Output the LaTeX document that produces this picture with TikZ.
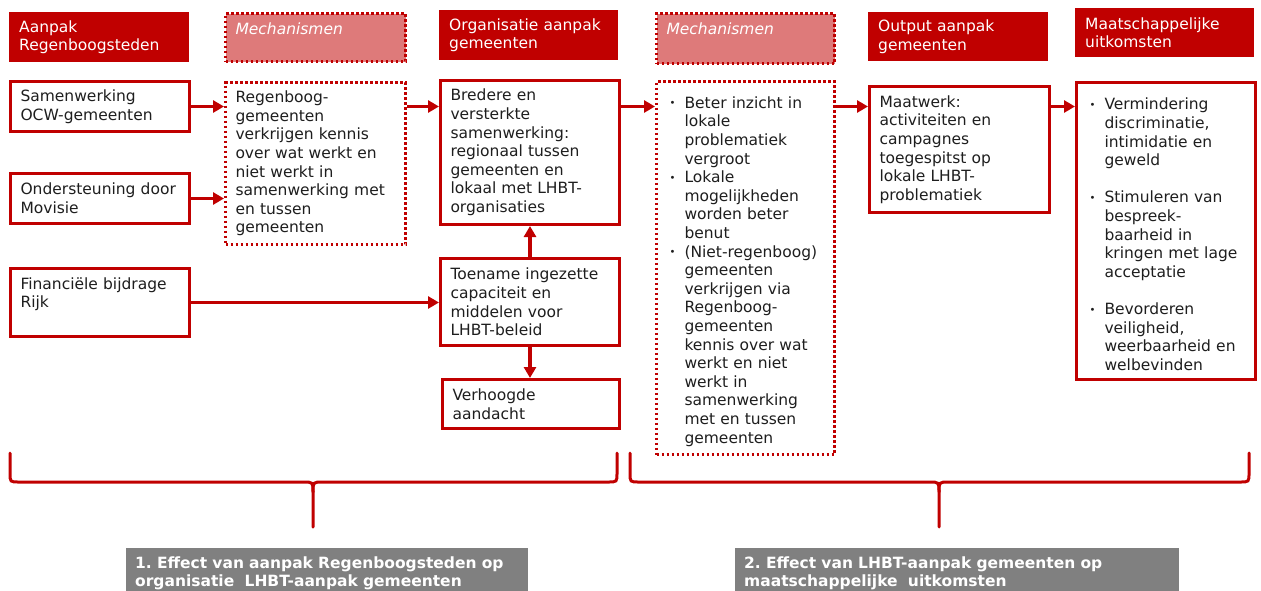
\documentclass[tikz,border=0pt]{standalone}
\usepackage{fontspec}
\setmainfont{DejaVu Sans}
\usepackage{tikz}
\usetikzlibrary{arrows.meta}

\definecolor{rdark}{RGB}{192,0,0}
\definecolor{rlight}{RGB}{222,122,122}
\definecolor{grijs}{RGB}{128,128,128}
\definecolor{tekst}{RGB}{30,30,30}

\newcommand{\boxfont}{\fontsize{15.5pt}{18.6pt}\selectfont}
\newcommand{\itm}{\par\noindent\hangindent=18pt\hangafter=1%
  \makebox[18pt][l]{\hspace{3pt}\raisebox{1.5pt}{\fontsize{10pt}{10pt}\selectfont\textbullet}}}

\begin{document}
\begin{tikzpicture}[x=1pt, y=-1pt,
  every node/.style={font=\boxfont},
  hdr/.style={anchor=north west, fill=rdark, text=white, inner xsep=10pt, inner ysep=4pt, align=left},
  mechhdr/.style={hdr, fill=rlight, draw=rdark, line width=3pt, dash pattern=on 2.5pt off 2.5pt, font=\boxfont\itshape},
  blok/.style={anchor=north west, draw=rdark, line width=3pt, fill=white, text=tekst, inner xsep=10pt, inner ysep=4pt, align=left},
  mechblok/.style={blok, dash pattern=on 2.5pt off 2.5pt},
  effect/.style={anchor=north west, fill=grijs, text=white, font=\boxfont\bfseries, inner xsep=9pt, inner ysep=7pt, align=left},
  arr/.style={draw=rdark, line width=3.5pt, -{Triangle[length=11pt,width=12pt]}},
  accolade/.style={draw=rdark, line width=3pt, line cap=round}]
\useasboundingbox (0,0) rectangle (1261,590);

% Headers
\node[hdr, text width=160pt, minimum height=50pt] (h1) at (9,12) {Aanpak\\Regenboogsteden};
\node[mechhdr, text width=160pt, minimum height=48pt, text height=12pt, text depth=18pt] (h2) at (224,12) {Mechanismen};
\node[hdr, text width=159pt, minimum height=50pt] (h3) at (439,10) {Organisatie aanpak\\gemeenten};
\node[mechhdr, text width=158pt, minimum height=50pt, text height=12pt, text depth=20pt] (h4) at (655,12) {Mechanismen};
\node[hdr, text width=160pt, minimum height=49pt] (h5) at (868,12) {Output aanpak\\gemeenten};
\node[hdr, text width=159pt, minimum height=49pt] (h6) at (1075,8) {Maatschappelijke\\uitkomsten};

% Aanpak Regenboogsteden
\node[blok, text width=159pt, minimum height=50pt] (a1) at (9,80) {Samenwerking\\OCW-gemeenten};
\node[blok, text width=159pt, minimum height=50pt] (a2) at (9,172) {Ondersteuning door\\Movisie};
\node[blok, text width=159pt, minimum height=68pt, text height=12pt, text depth=39pt] (a3) at (9,267) {Financiële bijdrage\\Rijk};

% Mechanismen 1
\node[mechblok, text width=160pt, minimum height=162pt] (m1) at (224,81)
  {Regenboog-\\gemeenten\\verkrijgen kennis\\over wat werkt en\\niet werkt in\\samenwerking met\\en tussen\\gemeenten};

% Organisatie gemeenten
\node[blok, text width=159pt, minimum height=144pt] (o1) at (439,79)
  {Bredere en\\versterkte\\samenwerking:\\regionaal tussen\\gemeenten en\\lokaal met LHBT-\\organisaties};
\node[blok, text width=159pt, minimum height=87pt] (o2) at (439,257)
  {Toename ingezette\\capaciteit en\\middelen voor\\LHBT-beleid};
\node[blok, text width=157pt, minimum height=49pt] (o3) at (441,378) {Verhoogde\\aandacht};

% Mechanismen 2
\node[mechblok, text width=158pt, minimum height=373pt] (m2) at (655,80)
  {\itm Beter inzicht in\newline lokale\newline problematiek\newline vergroot
   \itm Lokale\newline mogelijkheden\newline worden beter\newline benut
   \itm (Niet-regenboog)\newline gemeenten\newline verkrijgen via\newline Regenboog-\newline gemeenten\newline
   kennis over wat\newline werkt en niet\newline werkt in\newline samenwerking\newline met en tussen\newline gemeenten\par};

% Output en uitkomsten
\node[blok, text width=160pt, minimum height=126pt] (p1) at (868,85)
  {Maatwerk:\\activiteiten en\\campagnes\\toegespitst op\\lokale LHBT-\\problematiek};
\node[blok, text width=159pt, minimum height=297pt] (u1) at (1075,81)
  {\itm Vermindering\newline discriminatie,\newline intimidatie en\newline geweld
   \par\vspace{18.6pt}
   \itm Stimuleren van\newline bespreek-\newline baarheid in\newline kringen met lage\newline acceptatie
   \par\vspace{18.6pt}
   \itm Bevorderen\newline veiligheid,\newline weerbaarheid en\newline welbevinden\par};

% Arrows
\draw[arr] (a1) -- (a1 -| m1.west);
\draw[arr] (a2) -- (a2 -| m1.west);
\draw[arr] (m1.east |- a1) -- (o1.west |- a1);
\draw[arr] (o1.east |- a1) -- (m2.west |- a1);
\draw[arr] (m2.east |- a1) -- (p1.west |- a1);
\draw[arr] (p1.east |- a1) -- (u1.west |- a1);
\draw[arr] (a3) -- (a3 -| o2.west);
\draw[arr] (o2) -- (o1);
\draw[arr] (o2.south) -- (o2.south |- o3.north);

% Accolades
\foreach \l/\m/\r in {10/313/617, 630/939/1249} {
  \draw[accolade] (\l,453) -- (\l,473) .. controls (\l,482) .. (\l+9,482) -- (\m-10,482) .. controls (\m,482) .. (\m,492) -- (\m,527);
  \draw[accolade] (\r,453) -- (\r,473) .. controls (\r,482) .. (\r-9,482) -- (\m+10,482) .. controls (\m,482) .. (\m,492);
}

% Effecten
\node[effect, text width=384pt, minimum height=50pt] (e1) at (126,548)
  {1.\ Effect van aanpak Regenboogsteden op\\organisatie \ LHBT-aanpak gemeenten};
\node[effect, text width=426pt, minimum height=50pt] (e2) at (735,548)
  {2.\ Effect van LHBT-aanpak gemeenten op\\maatschappelijke \ uitkomsten};
\end{tikzpicture}
\end{document}
